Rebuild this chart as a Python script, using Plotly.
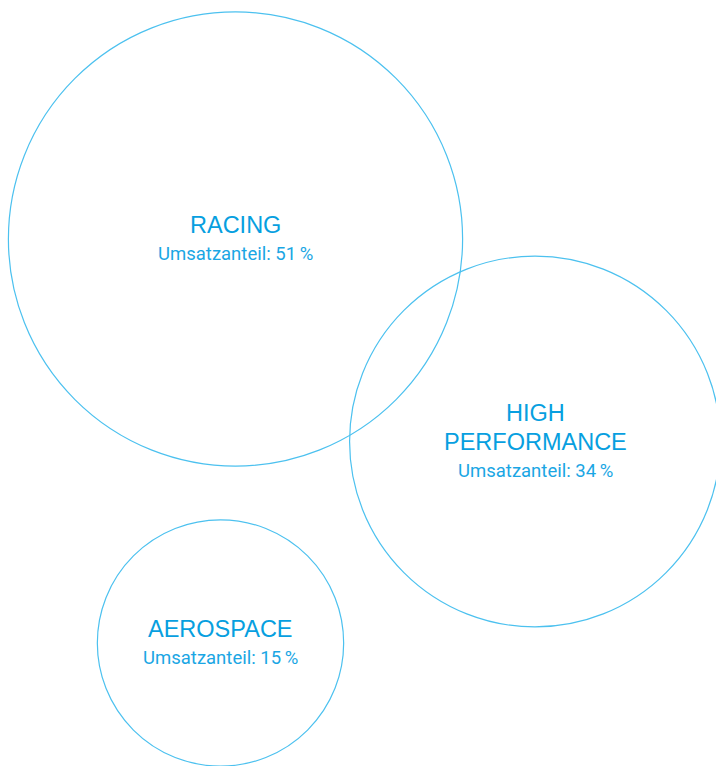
import math
import plotly.graph_objects as go

# Data
categories = ["RACING", "HIGH<br>PERFORMANCE", "AEROSPACE"]
shares = [51, 34, 15]  # Umsatzanteil in %
subtitle_tpl = "Umsatzanteil: {}\u2009%"

# Layout (pixel coordinates of circle centers)
centers_x = [235.5, 535, 220.5]
centers_y = [239, 441.5, 643]
scale = 31.8  # radius per sqrt(share)

W, H = 716, 766
title_color = "#079fe0"
sub_color = "#1aa6e4"
line_color = "#4cc1ef"

fig = go.Figure()
shapes = []
annotations = []
for cat, share, cx, cy in zip(categories, shares, centers_x, centers_y):
    r = scale * math.sqrt(share)
    shapes.append(dict(type="circle", xref="x", yref="y",
                       x0=cx - r, x1=cx + r, y0=cy - r, y1=cy + r,
                       line=dict(color=line_color, width=1.2),
                       fillcolor="rgba(0,0,0,0)"))
    lines = cat.split("<br>")
    n = len(lines)
    sub_y = cy + 14.5 + (n - 1) * 14.5
    for i, ln in enumerate(lines):
        ly = sub_y - 29 * (n - i)
        annotations.append(dict(x=cx, y=ly, xref="x", yref="y", text=ln,
                                showarrow=False, xanchor="center", yanchor="middle",
                                font=dict(family="Liberation Sans, Arial, sans-serif",
                                          size=23.5, color=title_color)))
    annotations.append(dict(x=cx, y=sub_y, xref="x", yref="y",
                            text=subtitle_tpl.format(share),
                            showarrow=False, xanchor="center", yanchor="middle",
                            font=dict(family="Roboto, Liberation Sans, sans-serif",
                                      size=18.5, weight=400, color=sub_color)))

# invisible trace to establish axes
fig.add_trace(go.Scatter(x=[0, W], y=[0, H], mode="markers",
                         marker=dict(opacity=0), hoverinfo="skip", showlegend=False))

fig.update_layout(
    width=W, height=H,
    margin=dict(l=0, r=0, t=0, b=0),
    paper_bgcolor="white", plot_bgcolor="white",
    xaxis=dict(range=[0, W], visible=False, fixedrange=True),
    yaxis=dict(range=[H, 0], visible=False, fixedrange=True),
    shapes=shapes, annotations=annotations, showlegend=False,
)

fig.write_html("out.html")
